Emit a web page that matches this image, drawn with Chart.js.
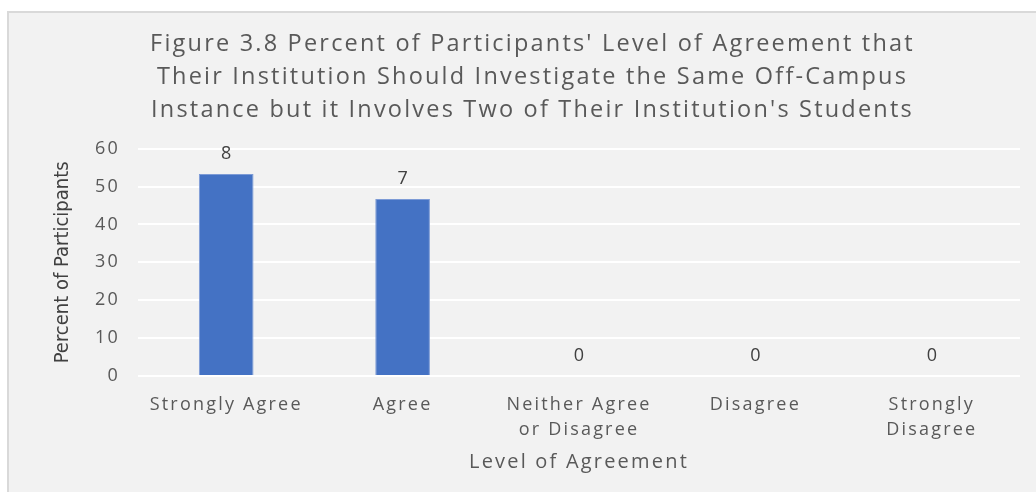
<!DOCTYPE html>
<html>
<head>
<meta charset="utf-8">
<script src="https://cdn.jsdelivr.net/npm/chart.js@4/dist/chart.umd.min.js"></script>
<style>
  body { margin: 0; background: #ffffff; width: 1036px; height: 492px; overflow: hidden; position: relative; }
  #frame { position: absolute; left: 7px; top: 11px; width: 1040px; height: 490px; background: #f2f2f2; border: 2px solid #d9d9d9; }
  #wrap { position: absolute; left: 0; top: 0; width: 1036px; height: 492px; }
</style>
</head>
<body>
<div id="frame"></div>
<div id="wrap"><canvas id="myChart" width="1036" height="492"></canvas></div>
<script>
const categories = ["Strongly Agree", "Agree", ["Neither Agree", "or Disagree"], "Disagree", ["Strongly", "Disagree"]];
const percents = [53.3, 46.7, 0, 0, 0];
const counts = [8, 7, 0, 0, 0];
const yTicks = [0, 10, 20, 30, 40, 50, 60];
const titleLines = [
  "Figure 3.8 Percent of Participants' Level of Agreement that",
  "Their Institution Should Investigate the Same Off-Campus",
  "Instance but it Involves Two of Their Institution's Students"
];
const yTitle = "Percent of Participants";

// the original text is spaced out a bit, like an exported office chart
const spacing = {
  id: "spacing",
  beforeLayout(chart) {
    chart.ctx.letterSpacing = "2.2px";
  },
  beforeDraw(chart) {
    chart.ctx.letterSpacing = "2.2px";
  }
};

// counts above bars + the y axis title (drawn here so it keeps normal spacing)
const countLabels = {
  id: "countLabels",
  afterDatasetsDraw(chart) {
    const ctx = chart.ctx;
    const meta = chart.getDatasetMeta(0);
    ctx.save();
    ctx.letterSpacing = "0px";
    ctx.font = "18px 'Open Sans'";
    ctx.fillStyle = "#404040";
    ctx.textAlign = "center";
    ctx.textBaseline = "middle";
    for (let i = 0; i < meta.data.length; i++) {
      let bar = meta.data[i];
      ctx.fillText(counts[i], bar.x, bar.y - 20);
    }
    ctx.restore();
  },
  afterDraw(chart) {
    const ctx = chart.ctx;
    const area = chart.chartArea;
    ctx.save();
    ctx.letterSpacing = "0px";
    ctx.translate(63, (area.top + area.bottom) / 2);
    ctx.rotate(-Math.PI / 2);
    ctx.font = "20px 'Liberation Sans Narrow', 'DejaVu Sans Condensed', sans-serif";
    ctx.fillStyle = "#404040";
    ctx.textAlign = "center";
    ctx.textBaseline = "middle";
    ctx.fillText(yTitle, 0, 0);
    ctx.restore();
  }
};

const data = {
  labels: categories,
  datasets: [
    {
      data: percents,
      backgroundColor: "#4472C4",
      borderColor: "#7d9bd6",
      borderWidth: 1,
      barPercentage: 0.31,
      categoryPercentage: 1
    }
  ]
};

const config = {
  type: "bar",
  data: data,
  plugins: [spacing, countLabels],
  options: {
    responsive: false,
    animation: false,
    layout: { padding: { left: 45, right: 16, top: 14, bottom: 18 } },
    plugins: {
      legend: { display: false },
      tooltip: { enabled: false },
      title: {
        display: true,
        text: titleLines,
        color: "#595959",
        font: { family: "'Open Sans'", size: 23.5, weight: "normal", lineHeight: 1.4 },
        padding: { top: 14, bottom: 22 }
      }
    },
    scales: {
      y: {
        min: 0,
        max: 60,
        afterBuildTicks(scale) {
          scale.ticks = yTicks.map((v) => ({ value: v }));
        },
        afterFit(scale) {
          scale.width = 93;
        },
        border: { display: false },
        grid: { color: "#ffffff", lineWidth: 2, drawTicks: false },
        ticks: {
          color: "#595959",
          font: { family: "'Open Sans'", size: 18 },
          padding: 18
        }
      },
      x: {
        afterFit(scale) {
          scale.height = 98;
        },
        border: { display: false },
        grid: { display: false },
        ticks: {
          color: "#595959",
          font: { family: "'Open Sans'", size: 18, lineHeight: 1.4 },
          padding: 8,
          maxRotation: 0,
          autoSkip: false
        },
        title: {
          display: true,
          text: "Level of Agreement",
          color: "#595959",
          font: { family: "'Open Sans'", size: 20 },
          padding: { top: 4, bottom: 0 }
        }
      }
    }
  }
};

const myChart = new Chart(document.getElementById("myChart"), config);
</script>
</body>
</html>
